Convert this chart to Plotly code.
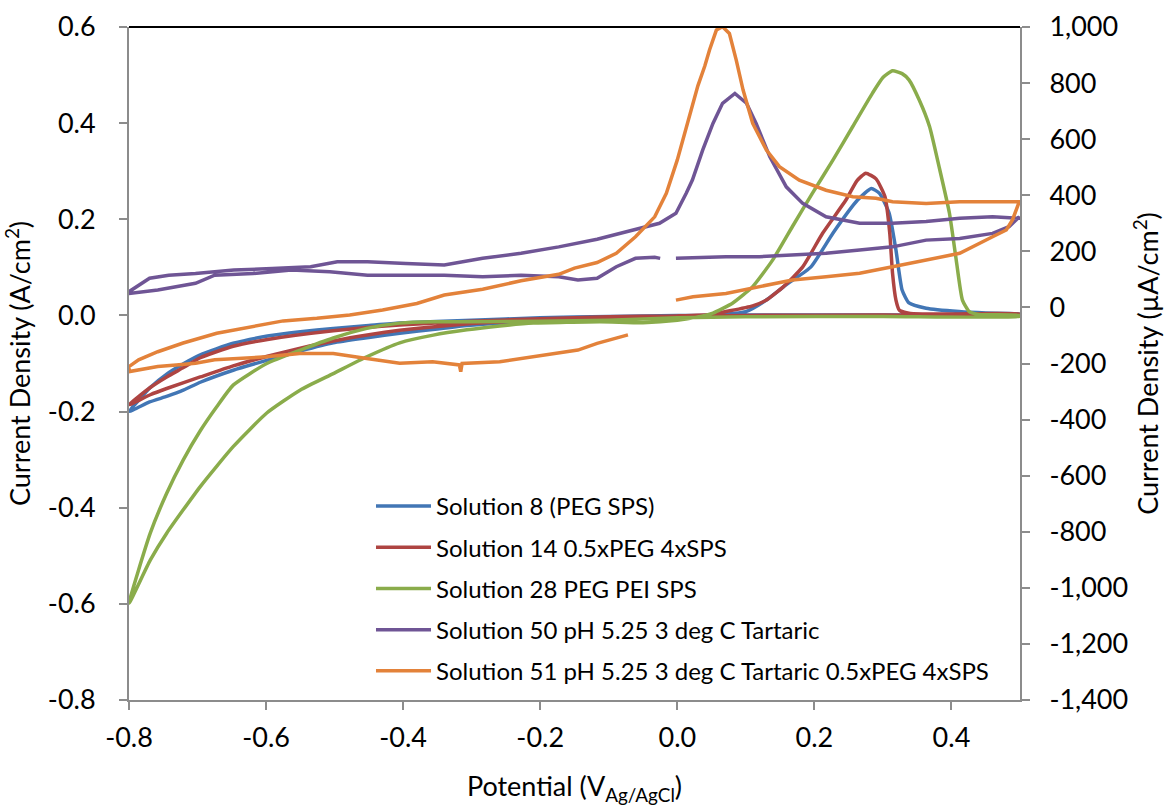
import plotly.graph_objects as go

# ---------------- data ----------------
x_ticks = [-0.8, -0.6, -0.4, -0.2, 0.0, 0.2, 0.4]
x_tick_labels = ["-0.8", "-0.6", "-0.4", "-0.2", "0.0", "0.2", "0.4"]
y_ticks = [-0.8, -0.6, -0.4, -0.2, 0.0, 0.2, 0.4, 0.6]
y_tick_labels = ["-0.8", "-0.6", "-0.4", "-0.2", "0.0", "0.2", "0.4", "0.6"]
y2_ticks = [-1400, -1200, -1000, -800, -600, -400, -200, 0, 200, 400, 600, 800, 1000]
y2_tick_labels = ["-1,400", "-1,200", "-1,000", "-800", "-600", "-400", "-200", "0",
                  "200", "400", "600", "800", "1,000"]

series_names = [
    "Solution 8 (PEG SPS)",
    "Solution 14 0.5xPEG 4xSPS",
    "Solution 28 PEG PEI SPS",
    "Solution 50 pH 5.25 3 deg C Tartaric",
    "Solution 51 pH 5.25 3 deg C Tartaric 0.5xPEG 4xSPS",
]

# Solution 8 (A/cm2, left axis)
s8_x = [-0.800, -0.770, -0.744, -0.720, -0.696, -0.648, -0.598, -0.550, -0.502, -0.450,
        -0.405, -0.350, -0.307, -0.250, -0.211, -0.150, -0.100, -0.050, 0.000, 0.050,
        0.100, 0.130, 0.160, 0.195, 0.227, 0.263, 0.283, 0.295, 0.309, 0.319,
        0.328, 0.338, 0.363, 0.411, 0.450, 0.500,
        0.500, 0.400, 0.300, 0.200, 0.100, 0.000, -0.100, -0.200, -0.300, -0.405,
        -0.450, -0.502, -0.550, -0.598, -0.648, -0.696, -0.720, -0.745, -0.769, -0.785, -0.800]
s8_y = [-0.200, -0.180, -0.168, -0.155, -0.139, -0.114, -0.093, -0.074, -0.057, -0.046,
        -0.037, -0.028, -0.021, -0.015, -0.012, -0.008, -0.005, -0.003, -0.001, 0.001,
        0.008, 0.032, 0.065, 0.101, 0.171, 0.240, 0.264, 0.254, 0.213, 0.136,
        0.053, 0.026, 0.015, 0.008, 0.005, 0.003,
        0.001, 0.001, 0.001, 0.001, 0.001, 0.000, -0.002, -0.005, -0.010, -0.016,
        -0.021, -0.027, -0.034, -0.043, -0.058, -0.082, -0.100, -0.122, -0.150, -0.175, -0.200]

# Solution 14 (A/cm2, left axis)
s14_x = [-0.800, -0.769, -0.745, -0.696, -0.648, -0.598, -0.550, -0.502, -0.450, -0.405,
         -0.350, -0.300, -0.250, -0.200, -0.100, 0.000, 0.050, 0.071, 0.110, 0.130,
         0.155, 0.183, 0.212, 0.246, 0.262, 0.275, 0.290, 0.303, 0.310, 0.314,
         0.319, 0.324, 0.340, 0.400, 0.500,
         0.500, 0.300, 0.100, 0.000, -0.100, -0.200, -0.300, -0.405, -0.502, -0.598,
         -0.648, -0.696, -0.720, -0.745, -0.769, -0.800]
s14_y = [-0.186, -0.165, -0.152, -0.128, -0.105, -0.085, -0.068, -0.053, -0.040, -0.031,
         -0.023, -0.017, -0.013, -0.009, -0.004, -0.001, 0.002, 0.008, 0.020, 0.032,
         0.060, 0.101, 0.171, 0.240, 0.280, 0.296, 0.284, 0.247, 0.171, 0.088,
         0.032, 0.011, 0.004, 0.003, 0.003,
         0.001, 0.001, 0.000, -0.001, -0.003, -0.007, -0.012, -0.020, -0.032, -0.050,
         -0.064, -0.088, -0.108, -0.128, -0.150, -0.186]

# Solution 28 (A/cm2, left axis)
s28_x = [-0.800, -0.769, -0.745, -0.696, -0.648, -0.599, -0.550, -0.502, -0.453, -0.405,
         -0.356, -0.307, -0.259, -0.210, -0.113, -0.050, 0.000, 0.030, 0.052, 0.081,
         0.110, 0.139, 0.168, 0.197, 0.227, 0.256, 0.285, 0.300, 0.314, 0.328,
         0.338, 0.353, 0.368, 0.382, 0.397, 0.407, 0.416, 0.426, 0.440, 0.500,
         0.500, 0.300, 0.100, 0.000, -0.100, -0.200, -0.300, -0.356, -0.405, -0.453,
         -0.502, -0.550, -0.599, -0.648, -0.672, -0.696, -0.721, -0.745, -0.769, -0.800]
s28_y = [-0.599, -0.509, -0.453, -0.356, -0.273, -0.203, -0.155, -0.121, -0.086, -0.057,
         -0.041, -0.030, -0.022, -0.016, -0.013, -0.015, -0.010, -0.003, 0.005, 0.026,
         0.060, 0.115, 0.185, 0.254, 0.323, 0.393, 0.463, 0.495, 0.509, 0.503,
         0.490, 0.448, 0.393, 0.309, 0.213, 0.115, 0.032, 0.008, 0.002, 0.000,
         -0.002, -0.002, -0.003, -0.005, -0.010, -0.012, -0.013, -0.013, -0.016, -0.027,
         -0.047, -0.072, -0.100, -0.145, -0.190, -0.240, -0.301, -0.370, -0.453, -0.599]

# Solution 50 (uA/cm2, right axis)
s50_x = [-0.002, 0.030, 0.071, 0.120, 0.168, 0.217, 0.266, 0.314, 0.363, 0.412,
         0.460, 0.484, 0.499,
         0.499, 0.460, 0.412, 0.363, 0.314, 0.266, 0.217, 0.183, 0.159, 0.135,
         0.115, 0.101, 0.084, 0.066, 0.052, 0.037, 0.022, 0.013, -0.002, -0.026,
         -0.050, -0.074, -0.117, -0.173, -0.228, -0.284, -0.340, -0.396, -0.452, -0.496,
         -0.535, -0.591, -0.647, -0.703, -0.742, -0.770, -0.800,
         -0.800, -0.758, -0.703, -0.675, -0.619, -0.563, -0.507, -0.452, -0.396, -0.340,
         -0.284, -0.228, -0.173, -0.145, -0.117, -0.089, -0.061, -0.033, -0.025]
s50_y = [175, 178, 181, 181, 187, 193, 205, 216, 240, 246,
         264, 288, 323,
         318, 323, 318, 306, 300, 300, 323, 371, 430, 537,
         656, 728, 763, 728, 656, 561, 454, 407, 336, 300,
         285, 272, 243, 216, 193, 175, 151, 157, 163, 163,
         145, 139, 133, 121, 115, 104, 56,
         50, 62, 86, 115, 121, 133, 127, 115, 115, 115,
         109, 115, 109, 98, 104, 145, 175, 179, 175]

# Solution 51 (uA/cm2, right axis)
s51_x = [-0.002, 0.023, 0.071, 0.120, 0.168, 0.217, 0.266, 0.314, 0.363, 0.412,
         0.460, 0.480, 0.489, 0.499,
         0.499, 0.460, 0.412, 0.363, 0.314, 0.290, 0.256, 0.217, 0.178, 0.149,
         0.130, 0.110, 0.096, 0.086, 0.076, 0.066, 0.057, 0.047, 0.040, 0.030,
         0.020, 0.011, 0.000, -0.016, -0.033, -0.061, -0.089, -0.117, -0.150, -0.173,
         -0.228, -0.284, -0.340, -0.380, -0.430, -0.478, -0.526, -0.575, -0.623, -0.672,
         -0.721, -0.758, -0.786, -0.800,
         -0.800, -0.786, -0.758, -0.731, -0.703, -0.675, -0.648, -0.599, -0.551, -0.502,
         -0.453, -0.405, -0.357, -0.318, -0.316, -0.314, -0.259, -0.211, -0.173, -0.145,
         -0.117, -0.089, -0.072]
s51_y = [26, 38, 50, 74, 98, 109, 122, 145, 169, 193,
         252, 276, 312, 370,
         377, 377, 377, 371, 377, 389, 395, 418, 454, 502,
         561, 656, 775, 882, 977, 1001, 989, 918, 860, 790,
         700, 621, 526, 407, 323, 252, 193, 160, 140, 118,
         95, 65, 44, 14, -9, -27, -39, -48, -69, -92,
         -127, -158, -187, -211,
         -229, -223, -211, -205, -199, -187, -182, -176, -164, -164,
         -182, -199, -194, -205, -229, -200, -194, -176, -164, -152,
         -128, -110, -98]

colors = ["#4276B5", "#AE4442", "#8AAC4B", "#6F5595", "#E3823A"]
smooth = [True, True, True, False, False]

FONT = "Lato, 'Open Sans', sans-serif"

fig = go.Figure()
data = [(s8_x, s8_y, "y"), (s14_x, s14_y, "y"), (s28_x, s28_y, "y"),
        (s50_x, s50_y, "y2"), (s51_x, s51_y, "y2")]
for i, (xs, ys, ax) in enumerate(data):
    line = dict(color=colors[i], width=3.5)
    if smooth[i]:
        line.update(shape="spline", smoothing=0.5)
    fig.add_trace(go.Scatter(
        x=xs, y=ys, mode="lines", name=series_names[i], yaxis=ax,
        legendgroup=f"g{i}", line=line,
    ))

axis_style = dict(
    showgrid=False, zeroline=False, showline=True, linecolor="#8C8C8C", linewidth=2,
    ticks="outside", ticklen=8, tickcolor="#8C8C8C", tickwidth=2, automargin=False,
    tickfont=dict(family=FONT, size=27, color="#000000"),
)

fig.update_layout(
    width=1168, height=806,
    margin=dict(l=129, r=148, t=27, b=106, autoexpand=False),
    paper_bgcolor="white", plot_bgcolor="white",
    font=dict(family=FONT, color="#000000"),
    xaxis=dict(range=[-0.8, 0.5], tickvals=x_ticks, ticktext=x_tick_labels,
               ticklabelstandoff=5,
               title=dict(text="Potential (V<sub>Ag/AgCl</sub>)",
                          font=dict(family=FONT, size=27), standoff=29),
               **axis_style),
    yaxis=dict(range=[-0.8, 0.6], tickvals=y_ticks, ticktext=y_tick_labels,
               ticklabelstandoff=18,
               title=dict(text="Current Density (A/cm<sup>2</sup>)",
                          font=dict(family=FONT, size=27), standoff=12),
               **axis_style),
    yaxis2=dict(range=[-1400, 1000], tickvals=y2_ticks, ticktext=y2_tick_labels,
                overlaying="y", side="right", ticklabelstandoff=14,
                title=dict(text="Current Density (µA/cm<sup>2</sup>)",
                           font=dict(family=FONT, size=27), standoff=12),
                **axis_style),
    legend=dict(x=0.2716, y=0.321, xanchor="left", yanchor="top",
                bgcolor="rgba(0,0,0,0)", borderwidth=0, itemwidth=55,
                font=dict(family=FONT, size=24, color="#000000"),
                traceorder="grouped", tracegroupgap=7),
    showlegend=True,
    shapes=[dict(type="line", xref="paper", yref="paper", x0=0, x1=1, y0=1, y1=1,
                 line=dict(color="#000000", width=2))],
)

fig.write_html("out.html")
